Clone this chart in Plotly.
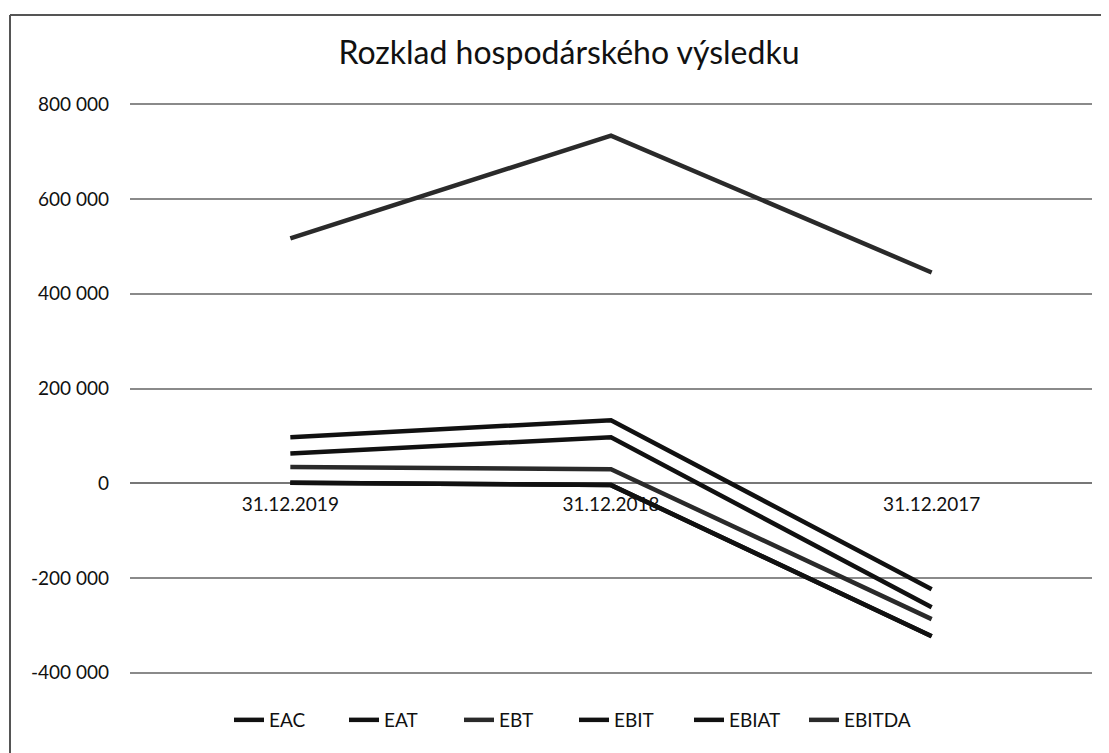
import plotly.graph_objects as go

categories = ["31.12.2019", "31.12.2018", "31.12.2017"]
series_names = ["EAC", "EAT", "EBT", "EBIT", "EBIAT", "EBITDA"]
eac = [1000, -4000, -323000]
eat = [1000, -4000, -323000]
ebt = [34000, 29500, -287000]
ebit = [97000, 133000, -224000]
ebiat = [63000, 97000, -262000]
ebitda = [517000, 734000, 445000]
series_values = [eac, eat, ebt, ebit, ebiat, ebitda]
y_tick_vals = [-400000, -200000, 0, 200000, 400000, 600000, 800000]
y_tick_text = ["-400 000", "-200 000", "0", "200 000", "400 000", "600 000", "800 000"]
title_text = "Rozklad hospodárského výsledku"

FONT = "Lato, 'Open Sans', sans-serif"
line_colors = ["#111111", "#111111", "#2a2a2a", "#111111", "#111111", "#2a2a2a"]

fig = go.Figure()
for name, vals, col in zip(series_names, series_values, line_colors):
    fig.add_trace(go.Scatter(
        x=categories, y=vals, name=name, mode="lines",
        line=dict(color=col, width=4.5),
    ))

ymin, ymax = y_tick_vals[0], y_tick_vals[-1]
pad = 5000
W, H = 1101, 745
L, T, R, B = 122, 94, 17, 78
plot_w = W - L - R
plot_h = H - T - B
frame_x = (2 - L) / plot_w
frame_y = 1 + (T - 7) / plot_h
fig.update_layout(
    width=W, height=H,
    margin=dict(l=L, r=R, t=T, b=B, autoexpand=False),
    paper_bgcolor="white", plot_bgcolor="white",
    font=dict(family=FONT, color="#111111", size=19),
    title=dict(text=title_text, xref="container", x=561 / W, xanchor="center",
               yref="container", y=1 - 45 / H, yanchor="middle",
               font=dict(size=32, family=FONT, color="#111111")),
    showlegend=True,
    legend=dict(orientation="h", xref="paper", x=(566 - L) / plot_w, xanchor="center",
                y=-(712 - (T + plot_h)) / plot_h, yanchor="middle",
                font=dict(size=19, family=FONT), entrywidth=70,
                traceorder="normal"),
    xaxis=dict(
        type="category", range=[-0.5, 2.5], showgrid=False,
        anchor="free", position=(0 - (ymin - pad)) / ((ymax + pad) - (ymin - pad)),
        showline=False, ticks="", tickfont=dict(size=19, family=FONT),
        ticklabelstandoff=8, zeroline=False,
    ),
    yaxis=dict(
        range=[ymin - pad, ymax + pad], tickvals=y_tick_vals, ticktext=y_tick_text,
        showgrid=True, gridcolor="#8a8a8a", gridwidth=1.5,
        zeroline=True, zerolinecolor="#777777", zerolinewidth=1.5,
        showline=False, ticks="", tickfont=dict(size=19, family=FONT),
        ticklabelstandoff=20,
    ),
    shapes=[
        dict(type="line", xref="paper", yref="paper",
             x0=frame_x, x1=frame_x, y0=-0.3, y1=frame_y,
             line=dict(color="#555555", width=2), layer="below"),
        dict(type="line", xref="paper", yref="paper",
             x0=frame_x, x1=1.05, y0=frame_y, y1=frame_y,
             line=dict(color="#555555", width=2), layer="below"),
    ],
)

fig.write_html("out.html")
